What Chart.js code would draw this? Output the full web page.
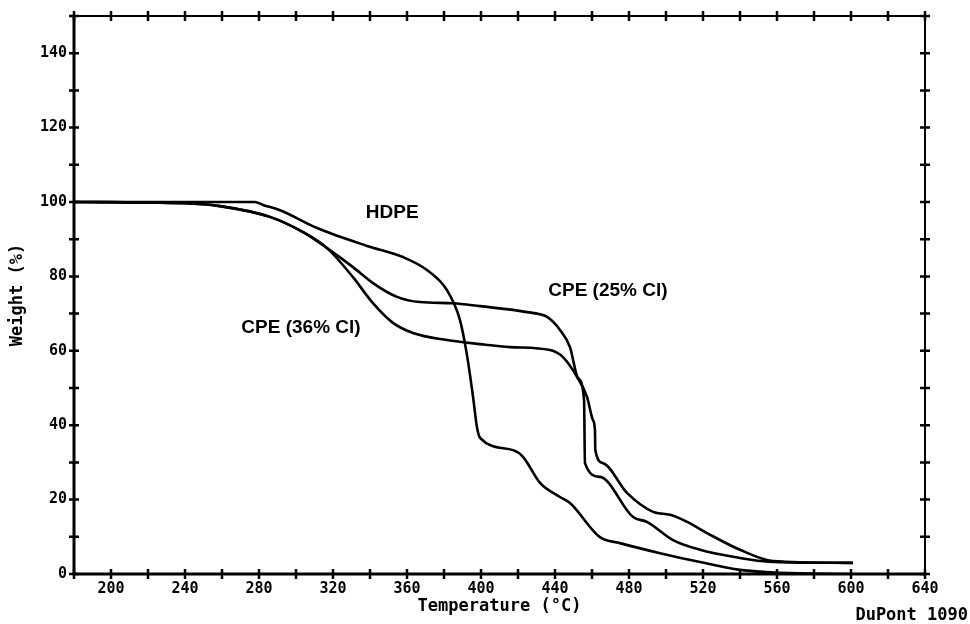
<!DOCTYPE html>
<html><head><meta charset="utf-8">
<script src="https://cdn.jsdelivr.net/npm/chart.js@4.4.1/dist/chart.umd.min.js"></script>
<style>html,body{margin:0;padding:0;background:#fff}</style>
</head><body>
<canvas id="c" width="970" height="624" style="width:970px;height:624px;display:block"></canvas>
<script>
// Tick labels
const xTicks = [200,240,280,320,360,400,440,480,520,560,600,640];
const yTicks = [0,20,40,60,80,100,120,140];
const xMinorStep = 20, yMinorStep = 10;

// HDPE
const hdpeT = [180,277.8,282.2,291.4,311.4,338.4,357.8,370.8,381.6,388.6,392.4,395.7,397.8,399.5,417.3,422.7,431.9,442.7,448.1,464.3,475.1,496.8,518.4,540,561.6,598];
const hdpeW = [100,100,99.2,97.8,93.0,88.2,85.2,81.7,76.3,68.3,58.9,47.6,39.5,36.6,33.3,31.5,24.5,20.7,19.1,9.9,8.3,5.6,3.2,1.1,0.3,0];

// CPE (25% Cl)
const cpe25T = [180,240,258.9,285.9,303.8,316.8,330.8,341.6,354.6,367.0,384.9,399.5,424.9,435.7,442.7,448.1,452.4,455.7,456.2,464.3,482.2,489.7,503.8,518.4,540,550.8,561.6,601];
const cpe25W = [100,99.7,98.9,96.0,91.9,87.6,82.5,78.2,74.5,73.1,72.8,72.0,70.4,69.1,65.6,61.0,52.7,46.8,29.8,26.1,15.3,14.0,9.1,6.5,4.3,3.5,3.2,3.0];

// CPE (36% Cl)
const cpe36T = [180,240,258.9,285.9,303.8,316.8,330.8,341.6,352.4,363.2,381.6,399.5,415.7,437.3,444.3,451.9,457.3,460.5,461.6,461.8,466,478.9,493,502.2,511.4,522.2,540,557.8,601];
const cpe36W = [100,99.7,98.9,96.0,91.9,87.6,79.8,72.8,67.5,64.8,62.9,61.8,61.0,60.2,58.3,53.0,47.6,41.4,38.7,33.3,29.8,21.8,16.7,15.9,14.0,11.0,6.5,3.5,3.0];

// Curve labels (data coordinates)
const curveLabels = [
  {text:'HDPE', x:352, y:97},
  {text:'CPE (25% Cl)', x:468.6, y:76.1},
  {text:'CPE (36% Cl)', x:302.7, y:66.1}
];

const toPts = (T,W) => T.map((t,i)=>({x:t,y:W[i]}));
const lineDs = (label,T,W) => ({label, data:toPts(T,W), borderColor:'#000', borderWidth:2.6,
  pointRadius:0, fill:false, cubicInterpolationMode:'monotone'});

const mono = '"DejaVu Sans Mono", monospace';

const framePlugin = {
  id:'frame',
  afterDraw(chart){
    const {ctx, chartArea:a, scales:{x,y}} = chart;
    ctx.save();
    ctx.strokeStyle = '#000';
    ctx.lineCap = 'butt';
    // frame
    ctx.lineWidth = 3;
    ctx.beginPath(); ctx.moveTo(a.left, a.top); ctx.lineTo(a.left, a.bottom); ctx.lineTo(a.right, a.bottom); ctx.stroke();
    ctx.lineWidth = 2;
    ctx.beginPath(); ctx.moveTo(a.left, a.top); ctx.lineTo(a.right, a.top); ctx.lineTo(a.right, a.bottom); ctx.stroke();
    // cross ticks
    ctx.lineWidth = 2.5;
    for (let v = x.min; v <= x.max + 0.01; v += xMinorStep) {
      const px = x.getPixelForValue(v);
      ctx.beginPath();
      ctx.moveTo(px, a.bottom-5); ctx.lineTo(px, a.bottom+5);
      ctx.moveTo(px, a.top-5); ctx.lineTo(px, a.top+5);
      ctx.stroke();
    }
    for (let v = y.min; v <= y.max + 0.01; v += yMinorStep) {
      const py = y.getPixelForValue(v);
      ctx.beginPath();
      ctx.moveTo(a.left-5, py); ctx.lineTo(a.left+5, py);
      ctx.moveTo(a.right-5, py); ctx.lineTo(a.right+5, py);
      ctx.stroke();
    }
    // curve labels
    ctx.fillStyle = '#000';
    ctx.font = 'bold 19px "Liberation Sans", Arial, sans-serif';
    ctx.textAlign = 'center'; ctx.textBaseline = 'middle';
    curveLabels.forEach(l => ctx.fillText(l.text, x.getPixelForValue(l.x), y.getPixelForValue(l.y)));
    // instrument note
    ctx.font = 'bold 17px ' + mono;
    ctx.textAlign = 'right'; ctx.textBaseline = 'alphabetic';
    ctx.fillText('DuPont 1090', 968, 620);
    ctx.restore();
  }
};

new Chart(document.getElementById('c'), {
  type:'line',
  data:{ datasets:[ lineDs('HDPE',hdpeT,hdpeW), lineDs('CPE (25% Cl)',cpe25T,cpe25W), lineDs('CPE (36% Cl)',cpe36T,cpe36W) ] },
  options:{
    responsive:false, animation:false, devicePixelRatio:1,
    layout:{ padding:{top:15, right:45, left:0, bottom:0} },
    plugins:{ legend:{display:false}, tooltip:{enabled:false} },
    scales:{
      x:{ type:'linear', min:180, max:640,
        afterBuildTicks: s => { s.ticks = xTicks.map(v=>({value:v})); },
        afterFit: s => { s.height = 50; },
        grid:{display:false, drawTicks:false}, border:{display:false},
        ticks:{ color:'#000', padding:6, font:{family:mono, size:15, weight:'bold'} },
        title:{ display:true, text:'Temperature (°C)', color:'#000', padding:{top:0,bottom:7}, font:{family:mono, size:17, weight:'bold'} }
      },
      y:{ type:'linear', min:0, max:150,
        afterBuildTicks: s => { s.ticks = yTicks.map(v=>({value:v})); },
        afterFit: s => { s.width = 74; },
        grid:{display:false, drawTicks:false}, border:{display:false},
        ticks:{ color:'#000', padding:7, font:{family:mono, size:15, weight:'bold'} },
        title:{ display:true, text:'Weight (%)', color:'#000', padding:{top:7,bottom:0}, font:{family:mono, size:17, weight:'bold'} }
      }
    }
  },
  plugins:[framePlugin]
});
</script>
</body></html>
